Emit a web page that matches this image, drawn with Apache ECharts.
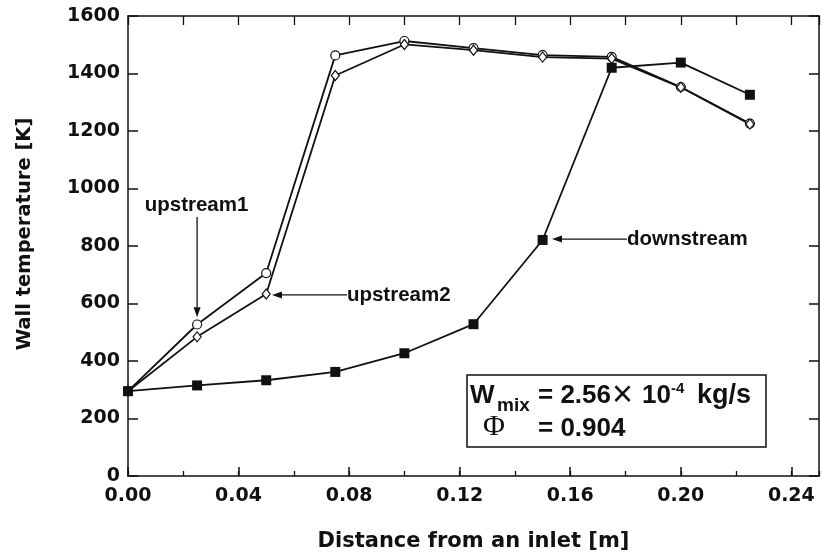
<!DOCTYPE html>
<html>
<head>
<meta charset="utf-8">
<script src="https://cdn.jsdelivr.net/npm/echarts@6/dist/echarts.min.js"></script>
<style>
  html, body { margin: 0; padding: 0; background: #fff; }
  #main { width: 822px; height: 555px; }
</style>
</head>
<body>
<div id="main"></div>
<script>
// distance from inlet [m]
var distance = [0, 0.025, 0.05, 0.075, 0.1, 0.125, 0.15, 0.175, 0.2, 0.225]
// wall temperature [K]
var upstream1 = [295, 527, 706, 1463, 1513, 1488, 1464, 1458, 1353, 1226]
var upstream2 = [295, 484, 633, 1393, 1501, 1481, 1457, 1452, 1352, 1224]
var downstream = [295, 315, 333, 362, 427, 528, 821, 1420, 1438, 1326]

var xMin = 0, xMax = 0.25, xStep = 0.04, xMinorStep = 0.02
var yMin = 0, yMax = 1600, yStep = 200

var ink = '#111'
var tickFont = { fontFamily: 'DejaVu Sans', fontWeight: 'bold', fontSize: 19, color: ink }
var nameFont = { fontFamily: 'DejaVu Sans', fontWeight: 'bold', color: ink }

function pairs(ys) {
  return distance.map(function (x, i) { return [x, ys[i]] })
}

var myChart = echarts.init(document.getElementById('main'))

var axisLine = { show: true, onZero: false, lineStyle: { color: ink, width: 1.5 } }

var option = {
  animation: false,
  backgroundColor: '#fff',
  grid: { left: 128, right: 3, top: 16, bottom: 79, containLabel: false, outerBoundsMode: 'none' },
  xAxis: [
    {
      type: 'value', position: 'bottom', min: xMin, max: xMax, interval: xStep,
      axisLine: axisLine,
      axisTick: { inside: true, length: 9, lineStyle: { color: ink, width: 1.5 } },
      axisLabel: Object.assign({ margin: 11, showMaxLabel: false, formatter: function (v) { return v.toFixed(2) } }, tickFont),
      splitLine: { show: false },
      name: 'Distance from an inlet [m]', nameLocation: 'middle', nameGap: 55,
      nameTextStyle: Object.assign({ fontSize: 21 }, nameFont)
    },
    {
      type: 'value', position: 'bottom', min: xMin, max: xMax, interval: xMinorStep,
      axisLine: { show: false, onZero: false },
      axisTick: { inside: true, length: 5, lineStyle: { color: ink, width: 1.3 } },
      axisLabel: { show: false }, splitLine: { show: false }
    },
    {
      type: 'value', position: 'top', min: xMin, max: xMax, interval: xMinorStep,
      axisLine: axisLine,
      axisTick: { inside: true, length: 9, lineStyle: { color: ink, width: 1.3 } },
      axisLabel: { show: false }, splitLine: { show: false }
    }
  ],
  yAxis: [
    {
      type: 'value', position: 'left', min: yMin, max: yMax, interval: yStep,
      axisLine: axisLine,
      axisTick: { inside: true, length: 10, lineStyle: { color: ink, width: 1.5 } },
      axisLabel: Object.assign({ margin: 8, formatter: function (v) { return String(v) } }, tickFont),
      splitLine: { show: false },
      name: 'Wall temperature [K]', nameLocation: 'middle', nameGap: 93,
      nameTextStyle: Object.assign({ fontSize: 19.5, padding: [0, 0, 0, 24] }, nameFont)
    },
    {
      type: 'value', position: 'right', min: yMin, max: yMax, interval: yStep,
      axisLine: axisLine,
      axisTick: { inside: true, length: 10, lineStyle: { color: ink, width: 1.5 } },
      axisLabel: { show: false }, splitLine: { show: false }
    }
  ],
  series: [
    {
      name: 'upstream1', type: 'line', data: pairs(upstream1),
      symbol: 'circle', symbolSize: 9,
      itemStyle: { color: '#fff', borderColor: ink, borderWidth: 1.2 },
      lineStyle: { color: ink, width: 1.8 },
      emphasis: { disabled: true }, z: 3
    },
    {
      name: 'upstream2', type: 'line', data: pairs(upstream2),
      symbol: 'diamond', symbolSize: [8, 10],
      itemStyle: { color: '#fff', borderColor: ink, borderWidth: 1.2 },
      lineStyle: { color: ink, width: 1.8 },
      emphasis: { disabled: true }, z: 3
    },
    {
      name: 'downstream', type: 'line', data: pairs(downstream),
      symbol: 'rect', symbolSize: 10,
      itemStyle: { color: ink },
      lineStyle: { color: ink, width: 1.8 },
      emphasis: { disabled: true }, z: 4
    }
  ]
}
myChart.setOption(option)

// annotation arrows, placed in data coordinates
function px(p) { return myChart.convertToPixel({ gridIndex: 0 }, p) }

var notes = [
  { text: 'upstream1', at: [0.0248, 943], align: 'center', from: [0.025, 901], to: [0.025, 552] },
  { text: 'upstream2', at: [0.0792, 630], align: 'left', from: [0.0792, 630], to: [0.0521, 630] },
  { text: 'downstream', at: [0.1805, 824], align: 'left', from: [0.1805, 824], to: [0.1534, 824] }
]

var graphic = []
notes.forEach(function (n) {
  var t = px(n.at), a = px(n.from), b = px(n.to)
  var dx = b[0] - a[0], dy = b[1] - a[1]
  var len = Math.sqrt(dx * dx + dy * dy)
  var ux = dx / len, uy = dy / len
  var hl = 10, hw = 3.5
  var base = [b[0] - ux * hl, b[1] - uy * hl]
  graphic.push({
    type: 'text', x: t[0], y: t[1], z: 10,
    style: { text: n.text, font: 'bold 20.5px "Liberation Sans"', fill: ink, align: n.align, verticalAlign: 'middle' }
  })
  graphic.push({
    type: 'line', z: 10,
    shape: { x1: a[0], y1: a[1], x2: base[0], y2: base[1] },
    style: { stroke: ink, lineWidth: 1.3 }
  })
  graphic.push({
    type: 'polygon', z: 10,
    shape: { points: [b, [base[0] - uy * hw, base[1] + ux * hw], [base[0] + uy * hw, base[1] - ux * hw]] },
    style: { fill: ink }
  })
})

// condition box
function boxText(s, x, y, font) {
  return { type: 'text', x: x, y: y, z: 12, style: { text: s, font: font, fill: ink, align: 'left', verticalAlign: 'middle' } }
}
var big = 'bold 26px "Liberation Sans"'
graphic.push({
  type: 'rect', z: 11,
  shape: { x: 467, y: 375, width: 299, height: 72 },
  style: { fill: '#fff', stroke: ink, lineWidth: 1.5 }
})
graphic.push(boxText('W', 470, 396, big))
graphic.push(boxText('mix', 497, 406, 'bold 19px "Liberation Sans"'))
graphic.push(boxText('= 2.56', 538, 396, big))
graphic.push(boxText('×', 612, 396, '36px "Liberation Sans"'))
graphic.push(boxText('10', 642, 396, big))
graphic.push(boxText('-4', 671, 389, 'bold 15px "Liberation Sans"'))
graphic.push(boxText('kg/s', 697, 396, 'bold 27px "Liberation Sans"'))
graphic.push(boxText('Φ', 483, 427, '30px "Liberation Serif"'))
graphic.push(boxText('= 0.904', 538, 429, big))

myChart.setOption({ graphic: graphic })
</script>
</body>
</html>
